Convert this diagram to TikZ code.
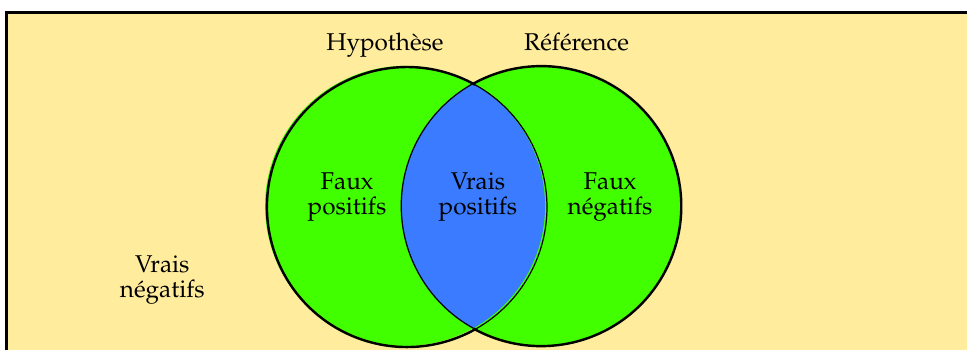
\documentclass[tikz,border=0pt]{standalone}
\usepackage[T1]{fontenc}
\usepackage{mathpazo}

\definecolor{fondjaune}{RGB}{255,236,156}
\definecolor{vertvif}{RGB}{66,255,0}
\definecolor{bleuvp}{RGB}{58,123,255}

\tikzset{
    ensemble/.style={circle, minimum size=4.054cm, inner sep=0pt, outer sep=0pt, fill=vertvif},
    etiquette/.style={align=center, inner sep=0pt, font=\fontsize{10}{10.4}\selectfont},
    contour/.style={line width=1pt},
}

\begin{document}
\begin{tikzpicture}
    \useasboundingbox (0,0) rectangle (14,-5.067);

    % Fond jaune du cadre
    \draw [contour, fill=fondjaune] (0.097,-0.178) rectangle (14.5,-5.5);

    % Les deux ensembles
    \node [ensemble] (hyp) at (5.864,-2.982) {};
    \node [ensemble] (ref) at (7.833,-2.982) {};

    % Intersection : vrais positifs
    \begin{scope}
        \clip (hyp.center) circle (2.027);
        \fill [bleuvp] (ref.center) circle (2.027);
    \end{scope}
    \draw [line width=0.5pt] (hyp.60.9) arc [start angle=60.9, end angle=-60.9, radius=2.027];
    \draw [line width=0.5pt] (ref.119.1) arc [start angle=119.1, end angle=240.9, radius=2.027];

    % Contours exterieurs
    \draw [contour] (hyp.60.9) arc [start angle=60.9, end angle=299.1, radius=2.027];
    \draw [contour] (ref.-119.1) arc [start angle=-119.1, end angle=119.1, radius=2.027];

    % Noms des ensembles
    \node [etiquette, anchor=base] (nomhyp) at (5.574,-0.738) {Hypoth\`ese};
    \node [etiquette, anchor=base] (nomref) at (8.347,-0.738) {R\'ef\'erence};

    % Les quatre cas
    \node [etiquette] (fp) at (5.024,-2.852) {Faux\\positifs};
    \node [etiquette] (vp) at (6.920,-2.852) {Vrais\\positifs};
    \node [etiquette] (fn) at (8.832,-2.852) {Faux\\n\'egatifs};
    \node [etiquette] (vn) at (2.35,-4.05) {Vrais\\n\'egatifs};
\end{tikzpicture}
\end{document}
